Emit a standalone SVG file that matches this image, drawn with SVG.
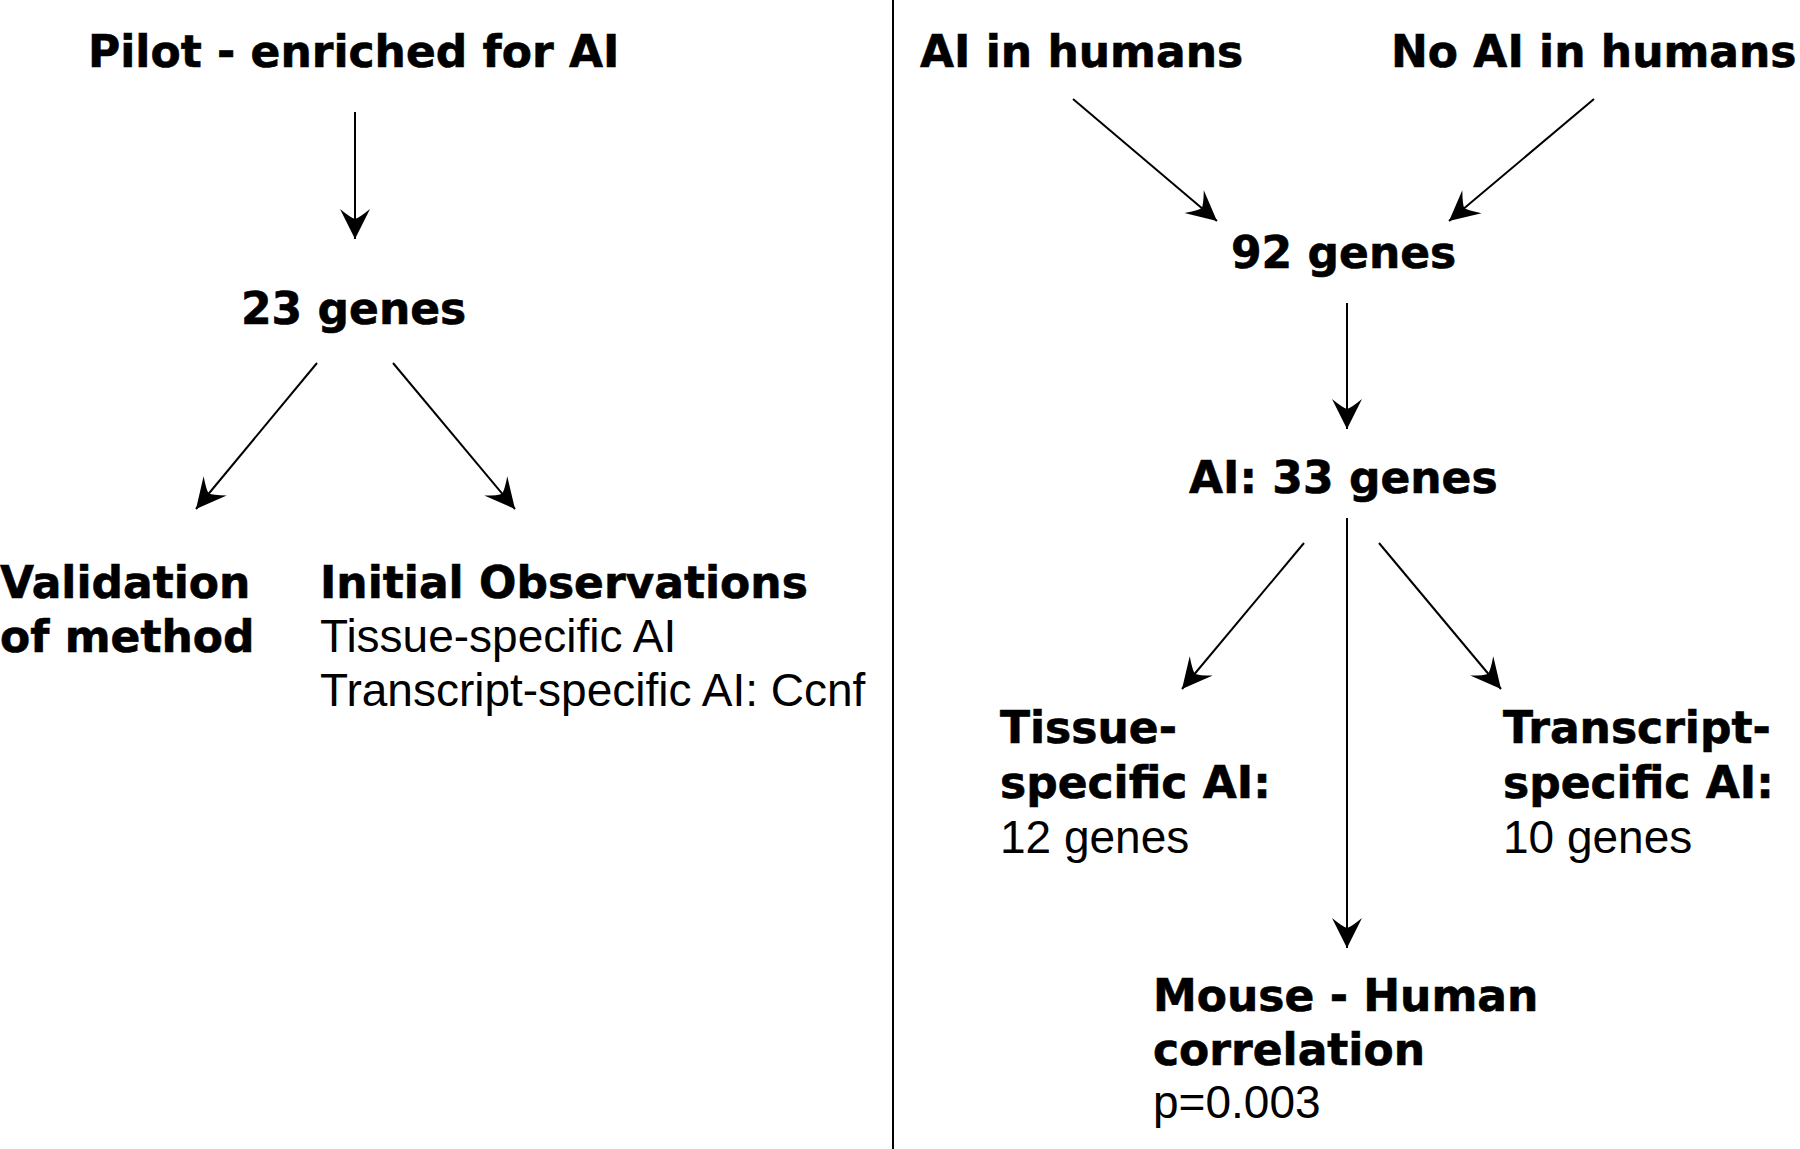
<svg xmlns="http://www.w3.org/2000/svg" width="1800" height="1149" viewBox="0 0 1800 1149">
<style>
.b{font-family:"DejaVu Sans",sans-serif;font-weight:bold;font-size:44px;fill:#000;stroke:#000;stroke-width:0.6}
.r{font-family:"Liberation Sans",Arial,sans-serif;font-size:46px;fill:#000}
.c line{stroke:#000;stroke-width:2;fill:none}
</style>
<defs>
<marker id="ah" markerUnits="userSpaceOnUse" orient="auto" refX="0" refY="0" markerWidth="40" markerHeight="40" overflow="visible">
<path d="M0,0 L-30,-15 Q-21,-4 -20,0 Q-21,4 -30,15 Z" fill="#000"/>
</marker>
</defs>
<rect width="1800" height="1149" fill="#fff"/>
<line x1="893" y1="0" x2="893" y2="1149" stroke="#000" stroke-width="2"/>
<g id="connectors" class="c">
<line x1="355" y1="112" x2="355" y2="239" marker-end="url(#ah)"/>
<line x1="317" y1="363" x2="196" y2="509" marker-end="url(#ah)"/>
<line x1="393" y1="363" x2="515" y2="509" marker-end="url(#ah)"/>
<line x1="1073" y1="99" x2="1217" y2="221" marker-end="url(#ah)"/>
<line x1="1594" y1="99" x2="1449" y2="221" marker-end="url(#ah)"/>
<line x1="1347" y1="303" x2="1347" y2="429" marker-end="url(#ah)"/>
<line x1="1304" y1="543" x2="1182" y2="689" marker-end="url(#ah)"/>
<line x1="1379" y1="543" x2="1501" y2="689" marker-end="url(#ah)"/>
<line x1="1347" y1="518" x2="1347" y2="948" marker-end="url(#ah)"/>
</g>
<g id="pilot"><text class="b" x="88" y="67">Pilot - enriched for AI</text></g>
<g id="genes23"><text class="b" x="241" y="324">23 genes</text></g>
<g id="validation"><text class="b" x="0" y="598">Validation</text><text class="b" x="0" y="652">of method</text></g>
<g id="initial"><text class="b" x="320" y="598">Initial Observations</text><text class="r" x="320" y="652">Tissue-specific AI</text><text class="r" x="320" y="706">Transcript-specific AI: Ccnf</text></g>
<g id="ai-humans"><text class="b" x="920" y="67">AI in humans</text></g>
<g id="no-ai-humans"><text class="b" x="1391" y="67">No AI in humans</text></g>
<g id="genes92"><text class="b" x="1231" y="268">92 genes</text></g>
<g id="ai33"><text class="b" x="1189" y="493">AI: 33 genes</text></g>
<g id="tissue"><text class="b" x="1000" y="743">Tissue-</text><text class="b" x="1000" y="798">specific AI:</text><text class="r" x="1000" y="853">12 genes</text></g>
<g id="transcript"><text class="b" x="1503" y="743">Transcript-</text><text class="b" x="1503" y="798">specific AI:</text><text class="r" x="1503" y="853">10 genes</text></g>
<g id="mouse"><text class="b" x="1153" y="1011">Mouse - Human</text><text class="b" x="1153" y="1065">correlation</text><text class="r" x="1153" y="1118">p=0.003</text></g>
</svg>
